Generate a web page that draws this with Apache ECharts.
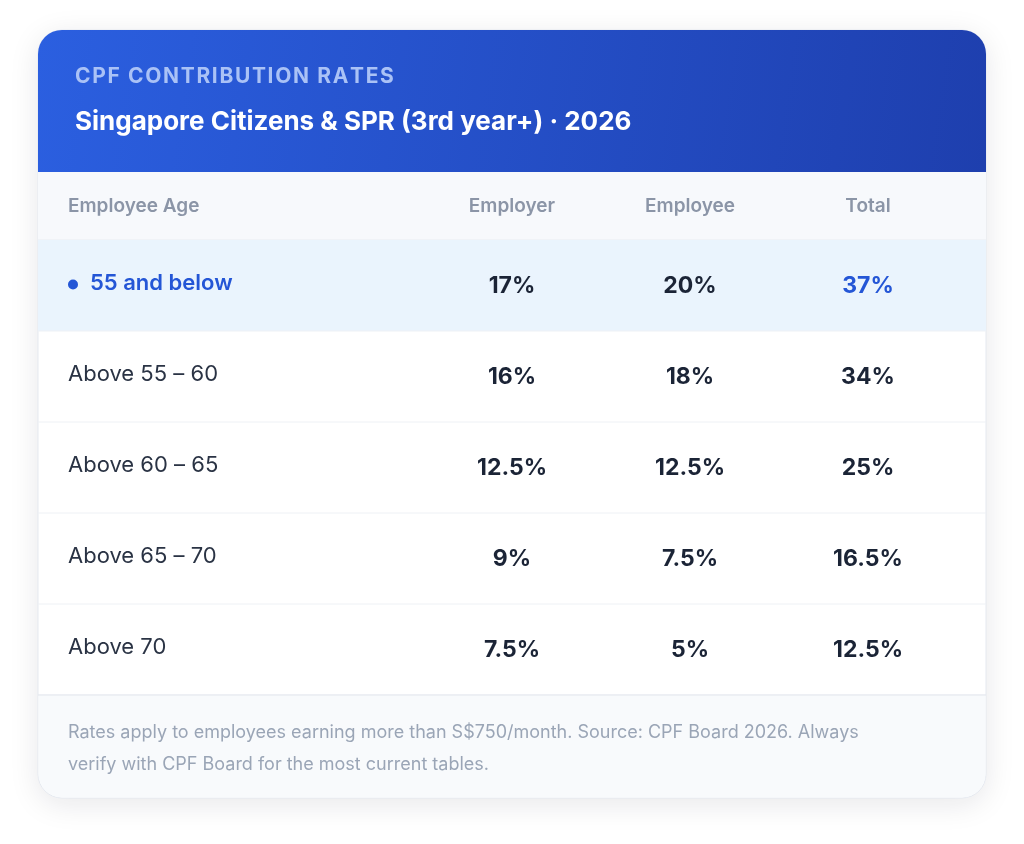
<!DOCTYPE html>
<html>
<head>
<meta charset="utf-8">
<script src="https://cdn.jsdelivr.net/npm/echarts@6/dist/echarts.min.js"></script>
<style>
html,body{margin:0;padding:0;background:#fff;}
#main{width:1024px;height:844px;}
</style>
</head>
<body>
<div id="main"></div>
<script>
// table data
var columns = ['Employee Age', 'Employer', 'Employee', 'Total'];
var ages = ['55 and below', 'Above 55 – 60', 'Above 60 – 65', 'Above 65 – 70', 'Above 70'];
var employer = ['17%', '16%', '12.5%', '9%', '7.5%'];
var employee = ['20%', '18%', '12.5%', '7.5%', '5%'];
var total = ['37%', '34%', '25%', '16.5%', '12.5%'];
var kicker = 'CPF CONTRIBUTION RATES';
var title = 'Singapore Citizens & SPR (3rd year+) · 2026';
var notes = ['Rates apply to employees earning more than S$750/month. Source: CPF Board 2026. Always',
             'verify with CPF Board for the most current tables.'];

var font = 'Inter, "Noto Sans", sans-serif';
var L = 38, R = 986, T = 30, B = 798;
var headBottom = 172, colHeadBottom = 240, rowH = 91;
var colX = [68, 512, 690, 868];

var els = [];
// card with shadow
els.push({type: 'rect', shape: {x: L, y: T, width: R - L, height: B - T, r: 24},
    style: {fill: '#fff', stroke: '#e5e9f0', lineWidth: 1, shadowBlur: 30, shadowColor: 'rgba(15,23,42,0.10)', shadowOffsetY: 6}});
// header
els.push({type: 'rect', shape: {x: L, y: T, width: R - L, height: headBottom - T, r: [24, 24, 0, 0]},
    style: {fill: new echarts.graphic.LinearGradient(0, 0, 1, 1, [{offset: 0, color: '#2b5fe0'}, {offset: 1, color: '#1e3fae'}])}});
els.push({type: 'text', x: 75, y: 77, style: {text: kicker.split('').join('\u200A'), fill: '#aac2f6', font: 'bold 21px ' + font, verticalAlign: 'middle'}});
els.push({type: 'text', x: 75, y: 122, style: {text: title, fill: '#ffffff', font: 'bold 26px ' + font, verticalAlign: 'middle'}});
// column header
els.push({type: 'rect', shape: {x: L, y: headBottom, width: R - L, height: colHeadBottom - headBottom}, style: {fill: '#f7f9fc'}});
columns.forEach(function (c, i) {
    els.push({type: 'text', x: colX[i], y: 206, style: {text: c, fill: '#8b95a7', font: '600 19px ' + font,
        align: i === 0 ? 'left' : 'center', verticalAlign: 'middle'}});
});
els.push({type: 'line', shape: {x1: L, y1: colHeadBottom, x2: R, y2: colHeadBottom}, style: {stroke: '#e8ecf2', lineWidth: 1}});
// rows
ages.forEach(function (a, i) {
    var y0 = colHeadBottom + i * rowH, yc = y0 + rowH / 2;
    var hi = i === 0;
    if (hi) els.push({type: 'rect', shape: {x: L, y: y0, width: R - L, height: rowH}, style: {fill: '#eaf4fd'}});
    if (hi) els.push({type: 'circle', shape: {cx: 73, cy: yc - 1, r: 5}, style: {fill: '#2456d6'}});
    els.push({type: 'text', x: hi ? 90 : colX[0], y: yc - 2, style: {text: a, fill: hi ? '#2456d6' : '#2a3344',
        font: (hi ? '600 ' : '400 ') + '22px ' + font, verticalAlign: 'middle'}});
    [employer[i], employee[i], total[i]].forEach(function (v, j) {
        els.push({type: 'text', x: colX[j + 1], y: yc + 1, style: {text: v, fill: (hi && j === 2) ? '#2456d6' : '#1b2436',
            font: 'bold 23px ' + font, align: 'center', verticalAlign: 'middle'}});
    });
    els.push({type: 'line', shape: {x1: L, y1: y0 + rowH, x2: R, y2: y0 + rowH}, style: {stroke: '#eef1f5', lineWidth: 1}});
});
// footer
var fy = colHeadBottom + ages.length * rowH;
els.push({type: 'rect', shape: {x: L + 0.5, y: fy + 0.5, width: R - L - 1, height: B - fy - 1, r: [0, 0, 24, 24]}, style: {fill: '#f8fafc'}});
els.push({type: 'line', shape: {x1: L, y1: fy, x2: R, y2: fy}, style: {stroke: '#e3e7ee', lineWidth: 1}});
notes.forEach(function (n, i) {
    els.push({type: 'text', x: 68, y: 733 + i * 32, style: {text: n, fill: '#9aa5b6', font: '18px ' + font, verticalAlign: 'middle'}});
});

var chart = echarts.init(document.getElementById('main'));
chart.setOption({animation: false, graphic: {elements: els}});
</script>
</body>
</html>
